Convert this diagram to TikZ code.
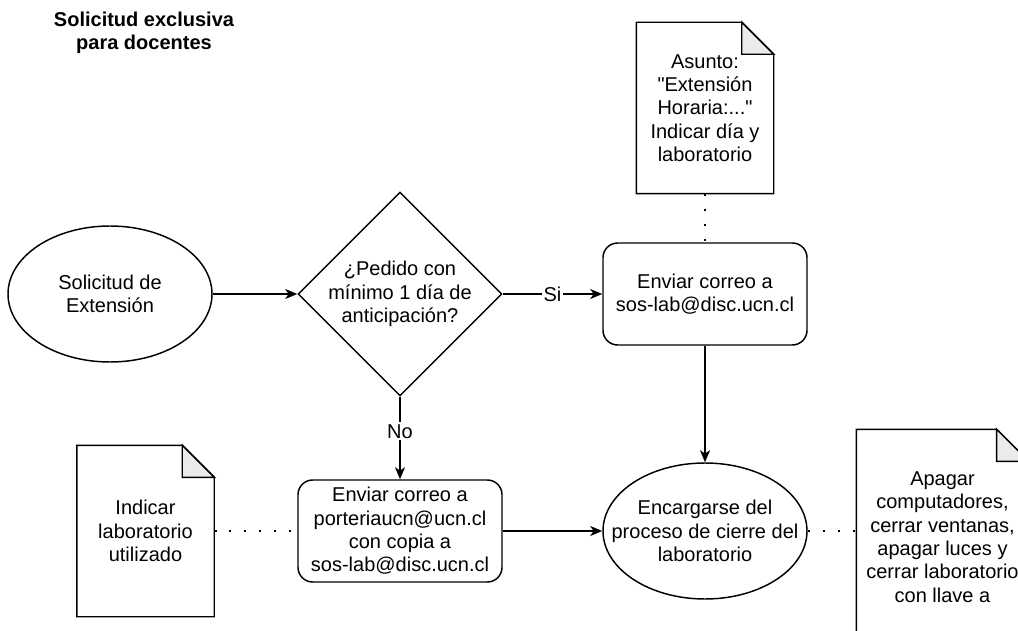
\documentclass[tikz,border=0pt]{standalone}
\usepackage{fontspec}
\setmainfont{Liberation Sans}[Ligatures=TeXOff]
\usetikzlibrary{shapes.geometric, arrows.meta, calc}
\definecolor{foldgray}{RGB}{235,235,235}

\tikzset{
    base/.style={font=\fontsize{15}{17.5}\selectfont, align=center, line width=1.1pt},
    oval/.style={base, ellipse, draw, minimum width=153pt, minimum height=102pt, inner xsep=-16pt, inner ysep=0pt},
    decision/.style={base, diamond, draw, minimum width=153pt, minimum height=153pt, inner sep=-2pt},
    process/.style={base, rectangle, draw, rounded corners=11pt, minimum width=153pt, minimum height=76.5pt, inner sep=2pt},
    docnote/.style={base, rectangle, minimum width=102pt, minimum height=127.5pt, inner sep=2pt},
    flow/.style={line width=1.1pt, -{Stealth[length=9pt, width=7.5pt, inset=2.5pt]}},
    notelink/.style={line width=1.7pt, dash pattern=on 1.7pt off 9.5pt},
    edgelabel/.style={font=\fontsize{15}{17.5}\selectfont, fill=white, inner sep=1.5pt}
}

% outline of a note with its folded corner
\newcommand{\notefold}[1]{%
    \draw[line width=1.1pt] (#1.south west) -- (#1.north west) -- ($(#1.north east)+(-32,0)$) -- ($(#1.north east)+(0,32)$) -- (#1.south east) -- cycle;
    \filldraw[line width=1.1pt, fill=foldgray] ($(#1.north east)+(-32,0)$) -- ($(#1.north east)+(-32,32)$) -- ($(#1.north east)+(0,32)$) -- cycle;
}

\begin{document}
\begin{tikzpicture}[x=0.75pt,y=0.75pt,yscale=-1,xscale=1]
    \useasboundingbox (0,0) rectangle (1018,631);
    \clip (0,0) rectangle (1018,631);

    % Title
    \node[font=\bfseries\fontsize{15}{17.25}\selectfont, align=center] (title) at (144,33) {Solicitud exclusiva\\para docentes};

    % Flow nodes
    \node[oval] (solicitud) at (110,294) {Solicitud de\\Extensión};
    \node[decision] (pedido) at (400,294) {¿Pedido con\\mínimo 1 día de\\anticipación?};
    \node[process] (correoSos) at (705,294) {Enviar correo a\\sos-lab@disc.ucn.cl};
    \node[process] (correoPort) at (400,531) {Enviar correo a\\porteriaucn@ucn.cl\\con copia a\\sos-lab@disc.ucn.cl};
    \node[oval] (encargarse) at (705,531) {Encargarse del\\proceso de cierre del\\laboratorio};

    % Notes
    \node[docnote] (asunto) at (705,108) {Asunto:\\"Extensión\\Horaria:..."\\Indicar día y\\laboratorio};
    \notefold{asunto}
    \node[docnote] (indicar) at (145.5,531) {Indicar\\laboratorio\\utilizado};
    \notefold{indicar}
    \node[docnote, minimum width=128pt, minimum height=160.5pt] (apagar) at (942.5,537) {Apagar\\computadores,\\cerrar ventanas,\\apagar luces y\\cerrar laboratorio\\con llave a};
    \notefold{apagar}

    % Connectors
    \draw[flow] (solicitud.east) -- (pedido.west);
    \draw[flow] (pedido.east) -- node[edgelabel] (si) {Si} (correoSos.west);
    \draw[flow] (pedido.south) -- node[edgelabel, pos=0.42] (no) {No} (correoPort.north);
    \draw[flow] (correoSos.south) -- (encargarse.north);
    \draw[flow] (correoPort.east) -- (encargarse.west);

    % Dotted note links
    \draw[notelink] (asunto.south) -- (correoSos.north);
    \draw[notelink] (indicar.east) -- (correoPort.west);
    \draw[notelink] (encargarse.east) -- (encargarse.east -| apagar.west);
\end{tikzpicture}
\end{document}
